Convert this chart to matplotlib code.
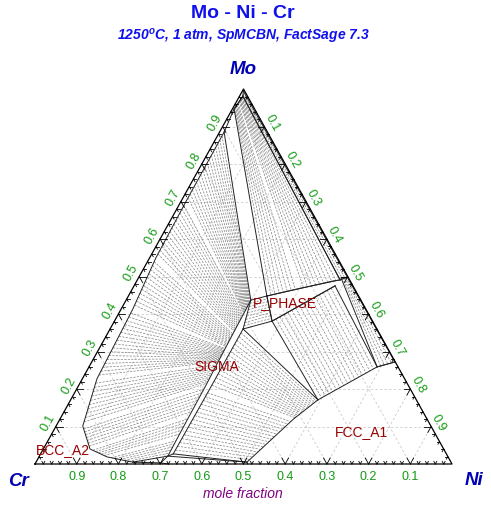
import numpy as np
import matplotlib
matplotlib.use("Agg")
import matplotlib.pyplot as plt

# compositions are (x_Ni, x_Mo); x_Cr = 1 - x_Ni - x_Mo
# two-phase regions as key tie lines: (phase A end, phase B end)
bcc_sigma_ties = [
    ((0.011, 0.885), (0.299, 0.437)),
    ((0.012, 0.700), (0.300, 0.400)),
    ((0.015, 0.550), (0.301, 0.350)),
    ((0.028, 0.413), (0.302, 0.310)),
    ((0.035, 0.227), (0.303, 0.270)),
    ((0.064, 0.101), (0.305, 0.210)),
    ((0.112, 0.040), (0.306, 0.130)),
    ((0.163, 0.019), (0.307, 0.070)),
    ((0.232, 0.005), (0.308, 0.021)),
]
sigma_fcc_ties = [
    ((0.319, 0.360), (0.593, 0.171)),
    ((0.319, 0.200), (0.560, 0.120)),
    ((0.318, 0.027), (0.506, 0.005)),
]
sigma_p_ties = [
    ((0.299, 0.437), (0.332, 0.448)),
    ((0.319, 0.360), (0.378, 0.381)),
]
bcc_p_ties = [
    ((0.004, 0.947), (0.332, 0.448)),
    ((0.006, 0.965), (0.400, 0.468)),
    ((0.008, 0.981), (0.486, 0.491)),
]
p_fcc_ties = [
    ((0.378, 0.381), (0.593, 0.171)),
    ((0.482, 0.475), (0.691, 0.259)),
]
delta_fcc_ties = [
    ((0.486, 0.496), (0.691, 0.259)),
    ((0.500, 0.498), (0.727, 0.272)),
]
bcc_delta_ties = [
    ((0.008, 0.981), (0.486, 0.491)),
    ((0.002, 0.995), (0.500, 0.498)),
]

# other phase boundaries
bcc_left = [(0.008, 0.981), (0.004, 0.947), (0.011, 0.885)]
bcc_bottom = [(0.232, 0.005), (0.300, 0.003), (0.320, 0.000)]
p_upper = [(0.332, 0.448), (0.471, 0.488), (0.486, 0.491)]
p_lower = [(0.378, 0.381), (0.482, 0.475)]
p_left = [(0.332, 0.448), (0.378, 0.381)]
sigma_bottom = [(0.308, 0.021), (0.318, 0.027)]
three_phase_low = [(0.300, 0.003), (0.308, 0.021), (0.506, 0.005), (0.510, 0.000)]
fcc_edge = [(0.691, 0.259), (0.727, 0.272)]

grid_values = [0.1, 0.2, 0.3, 0.4, 0.5, 0.6, 0.7, 0.8, 0.9]
tick_labels = ["0.1", "0.2", "0.3", "0.4", "0.5", "0.6", "0.7", "0.8", "0.9"]

phase_labels = ["P_PHASE", "SIGMA", "BCC_A2", "FCC_A1"]
phase_label_pos = [(0.383, 0.432), (0.306, 0.261), (0.047, 0.040), (0.738, 0.088)]

TIE = dict(color="#808080", lw=0.5, dashes=(3.2, 1.8), zorder=2)
LINE = dict(color="#222222", lw=0.7, zorder=3)


def cart(pts):
    pts = np.asarray(pts, dtype=float)
    return pts[:, 0] + pts[:, 1] / 2, pts[:, 1]


def draw_line(ax, pts, **kw):
    x, y = cart(pts)
    ax.plot(x, y, **{**LINE, **kw})


def hatch(ax, ties, spacing=4.5):
    ties = np.asarray(ties, dtype=float)
    for i in range(len(ties) - 1):
        a0, b0 = ties[i]
        a1, b1 = ties[i + 1]
        xa, ya = cart([a0, a1])
        xb, yb = cart([b0, b1])
        pa = ax.transData.transform(np.column_stack([xa, ya]))
        pb = ax.transData.transform(np.column_stack([xb, yb]))
        la = np.hypot(*(pa[1] - pa[0]))
        lb = np.hypot(*(pb[1] - pb[0]))
        n = max(1, int(round(max(la, lb) / spacing)))
        for t in np.linspace(0, 1, n + 1)[1:-1]:
            a = a0 + t * (a1 - a0)
            b = b0 + t * (b1 - b0)
            x, y = cart([a, b])
            ax.plot(x, y, **TIE)
    # boundaries of the region
    draw_line(ax, ties[:, 0])
    draw_line(ax, ties[:, 1])
    draw_line(ax, ties[0])
    draw_line(ax, ties[-1])


fig = plt.figure(figsize=(4.91, 5.06), dpi=100)
ax = fig.add_axes([0, 0, 1, 1])
ax.set_xlim(-35 / 417, 456 / 417)
ax.set_ylim(-41 / 375, 465 / 375)
ax.axis("off")

# grid
for k in grid_values:
    for seg in ([(0, k), (1 - k, k)], [(k, 0), (k, 1 - k)], [(1 - k, 0), (0, 1 - k)]):
        x, y = cart(seg)
        ax.plot(x, y, color="#cccccc", lw=0.6, dashes=(3, 2.5), zorder=1)

# triangle frame
x, y = cart([(0, 0), (1, 0), (0, 1), (0, 0)])
ax.plot(x, y, color="black", lw=0.9, zorder=4)

# ticks: small V marks along grid directions
for i in range(1, 50):
    v = i / 50
    d = 0.016 if i % 5 == 0 else 0.007
    # bottom (Cr axis), left (Mo axis), right (Ni axis)
    for p, arms in (
        ((1 - v, 0), [(-d, d), (0, d)]),
        ((0, v), [(d, 0), (d, -d)]),
        ((v, 1 - v), [(0, -d), (-d, 0)]),
    ):
        for dn, dm in arms:
            x, y = cart([p, (p[0] + dn, p[1] + dm)])
            ax.plot(x, y, color="black", lw=0.6, zorder=4)

# two-phase regions
hatch(ax, bcc_sigma_ties, 4.3)
hatch(ax, sigma_fcc_ties, 4.4)
hatch(ax, sigma_p_ties, 3.5)
hatch(ax, bcc_p_ties, 4.2)
hatch(ax, p_fcc_ties, 4.6)
hatch(ax, delta_fcc_ties, 4.0)
hatch(ax, bcc_delta_ties, 3.0)

for pts in (bcc_left, bcc_bottom, p_upper, p_lower, p_left, sigma_bottom,
            three_phase_low, fcc_edge):
    draw_line(ax, pts)

# tick labels
green = "#129a12"
for v, lab in zip(grid_values, tick_labels):
    x, y = cart([(0, v)])
    ax.text(x[0] - 0.019, y[0] + 0.011, lab, color=green, fontsize=9,
            rotation=61, ha="center", va="center", family="Liberation Sans")
    x, y = cart([(v, 1 - v)])
    ax.text(x[0] + 0.018, y[0] + 0.012, lab, color=green, fontsize=9,
            rotation=-61, ha="center", va="center", family="Liberation Sans")
    x, y = cart([(1 - v, 0)])
    ax.text(x[0], y[0] - 0.032, lab, color=green, fontsize=9,
            ha="center", va="center", family="Liberation Sans")

lx, ly = cart(phase_label_pos)
for lab, px, py in zip(phase_labels, lx, ly):
    ax.text(px, py, lab, color="#990000", fontsize=10, ha="center", va="center",
            family="Liberation Sans", zorder=5)

fig.text(0.495, 1 - 14 / 506, "Mo - Ni - Cr", color="#1010ee", fontsize=14,
         fontweight="bold", ha="center", va="center", family="Liberation Sans")
fig.text(0.495, 1 - 36 / 506, r"1250$^{\mathregular{o}}$C, 1 atm, SpMCBN, FactSage 7.3",
         color="#1010ee", fontsize=10, fontweight="bold", fontstyle="italic",
         ha="center", va="center", family="Liberation Sans")
corner = dict(color="#0000b4", fontsize=13.5, fontweight="bold", fontstyle="italic",
              ha="center", va="center", family="Liberation Sans")
fig.text(0.495, 1 - 70 / 506, "Mo", **corner)
fig.text(18 / 491, 1 - 482 / 506, "Cr", **corner)
fig.text(474 / 491, 1 - 481 / 506, "Ni", **corner)
fig.text(0.495, 1 - 494 / 506, "mole fraction", color="#800080", fontsize=10,
         fontstyle="italic", ha="center", va="center", family="Liberation Sans")

fig.savefig("out.png", dpi=100)
